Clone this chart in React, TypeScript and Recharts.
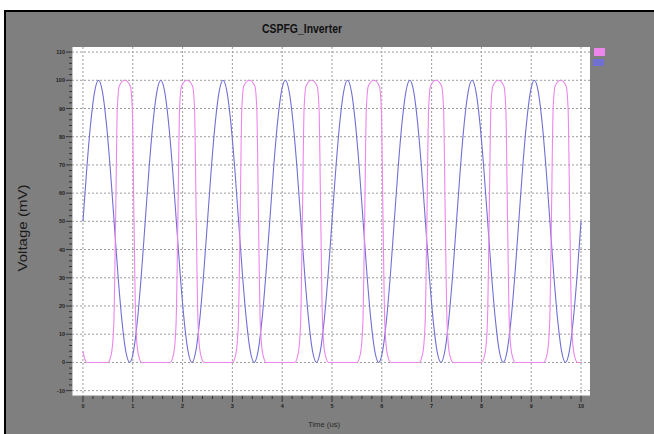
import { LineChart, Line, XAxis, YAxis, CartesianGrid } from "recharts";

// blue input: one row per 1.25 us period, sampled every 1/16 period
const BLUE_STEP = 0.078125;
const BLUE_V = [
  50, 69, 85, 96, 100, 96, 85, 69, 50, 31, 15, 4, 0, 4, 15, 31,
  50, 69, 85, 96, 100, 96, 85, 69, 50, 31, 15, 4, 0, 4, 15, 31,
  50, 69, 85, 96, 100, 96, 85, 69, 50, 31, 15, 4, 0, 4, 15, 31,
  50, 69, 85, 96, 100, 96, 85, 69, 50, 31, 15, 4, 0, 4, 15, 31,
  50, 69, 85, 96, 100, 96, 85, 69, 50, 31, 15, 4, 0, 4, 15, 31,
  50, 69, 85, 96, 100, 96, 85, 69, 50, 31, 15, 4, 0, 4, 15, 31,
  50, 69, 85, 96, 100, 96, 85, 69, 50, 31, 15, 4, 0, 4, 15, 31,
  50, 69, 85, 96, 100, 96, 85, 69, 50, 31, 15, 4, 0, 4, 15, 31,
  50,
];

// pink output: one row per pulse
const PINK_T = [
  0, 0.04, 0.08,
  0.5, 0.57, 0.62, 0.655, 0.69, 0.73, 0.84, 0.95, 0.99, 1.025, 1.06, 1.11, 1.18,
  1.75, 1.82, 1.87, 1.905, 1.94, 1.98, 2.09, 2.2, 2.24, 2.275, 2.31, 2.36, 2.43,
  3.0, 3.07, 3.12, 3.155, 3.19, 3.23, 3.34, 3.45, 3.49, 3.525, 3.56, 3.61, 3.68,
  4.25, 4.32, 4.37, 4.405, 4.44, 4.48, 4.59, 4.7, 4.74, 4.775, 4.81, 4.86, 4.93,
  5.5, 5.57, 5.62, 5.655, 5.69, 5.73, 5.84, 5.95, 5.99, 6.025, 6.06, 6.11, 6.18,
  6.75, 6.82, 6.87, 6.905, 6.94, 6.98, 7.09, 7.2, 7.24, 7.275, 7.31, 7.36, 7.43,
  8.0, 8.07, 8.12, 8.155, 8.19, 8.23, 8.34, 8.45, 8.49, 8.525, 8.56, 8.61, 8.68,
  9.25, 9.32, 9.37, 9.405, 9.44, 9.48, 9.59, 9.7, 9.74, 9.775, 9.81, 9.86, 9.93,
  10,
];
const PINK_V = [
  4, 1, 0,
  0, 3, 14, 50, 90, 98, 100, 98, 90, 50, 14, 3, 0,
  0, 3, 14, 50, 90, 98, 100, 98, 90, 50, 14, 3, 0,
  0, 3, 14, 50, 90, 98, 100, 98, 90, 50, 14, 3, 0,
  0, 3, 14, 50, 90, 98, 100, 98, 90, 50, 14, 3, 0,
  0, 3, 14, 50, 90, 98, 100, 98, 90, 50, 14, 3, 0,
  0, 3, 14, 50, 90, 98, 100, 98, 90, 50, 14, 3, 0,
  0, 3, 14, 50, 90, 98, 100, 98, 90, 50, 14, 3, 0,
  0, 3, 14, 50, 90, 98, 100, 98, 90, 50, 14, 3, 0,
  0,
];

const X_TICKS = [0, 1, 2, 3, 4, 5, 6, 7, 8, 9, 10];
const Y_TICKS = [-10, 0, 10, 20, 30, 40, 50, 60, 70, 80, 90, 100, 110];

const BLUE = "#7070d4";
const PINK = "#ec86ec";

const blueData = BLUE_V.map((v, i) => ({ t: i * BLUE_STEP, v }));
const pinkData = PINK_T.map((t, i) => ({ t, v: PINK_V[i] }));

// minor ticks: 5 per major division
const xMinor: number[] = [];
for (let i = 0; i <= 50; i++) xMinor.push(+(i * 0.2).toFixed(2));
const yMinor: number[] = [];
for (let v = -10; v <= 110; v += 2) yMinor.push(v);

const PLOT_L = 72;
const PLOT_B = 396;

const YTick = ({ y, payload }: any) => {
  const major = payload.value % 10 === 0;
  return (
    <g>
      <line x1={major ? 66 : 69} x2={PLOT_L} y1={y} y2={y} stroke="#333" strokeWidth={1} />
      {major && (
        <text x={65} y={y + 2} textAnchor="end" fontSize={5.5} fontWeight="bold" fill="#222">
          {payload.value}
        </text>
      )}
    </g>
  );
};

const XTick = ({ x, payload }: any) => {
  const major = Math.abs(payload.value - Math.round(payload.value)) < 1e-6;
  return (
    <g>
      <line x1={x} x2={x} y1={PLOT_B} y2={major ? 402 : 399} stroke="#333" strokeWidth={1} />
      {major && (
        <text x={x} y={408} textAnchor="middle" fontSize={5.5} fontWeight="bold" fill="#222">
          {payload.value}
        </text>
      )}
    </g>
  );
};

export default function App() {
  return (
    <div
      style={{
        position: "fixed",
        left: 0,
        top: 0,
        width: 654,
        height: 434,
        background: "#fff",
        fontFamily: "'Liberation Sans', Arial, sans-serif",
      }}
    >
      <div
        style={{
          position: "absolute",
          left: 4,
          top: 10,
          width: 650,
          height: 424,
          boxSizing: "border-box",
          background: "#7f7f7f",
          borderTop: "2px solid #000",
          borderLeft: "2px solid #000",
        }}
      />
      <div style={{ position: "absolute", left: 0, top: 0 }}>
        <LineChart
          width={654}
          height={434}
          margin={{ top: 47, right: 64, bottom: 8, left: 0 }}
        >
          <CartesianGrid
            fill="#fff"
            stroke="#9c9c9c"
            strokeDasharray="2 2"
            horizontalValues={Y_TICKS}
            verticalValues={X_TICKS}
          />
          <XAxis
            type="number"
            dataKey="t"
            domain={[-0.22, 10.18]}
            allowDataOverflow
            ticks={xMinor}
            interval={0}
            tick={<XTick />}
            tickLine={false}
            axisLine={{ stroke: "#8a8a8a" }}
            height={30}
          />
          <YAxis
            type="number"
            dataKey="v"
            domain={[-11.9, 111.8]}
            allowDataOverflow
            ticks={yMinor}
            interval={0}
            tick={<YTick />}
            tickLine={false}
            axisLine={{ stroke: "#8a8a8a" }}
            width={72}
          />
          <Line
            data={blueData}
            dataKey="v"
            name="in"
            type="monotone"
            stroke={BLUE}
            strokeWidth={1.1}
            dot={false}
            isAnimationActive={false}
          />
          <Line
            data={pinkData}
            dataKey="v"
            name="out"
            type="monotone"
            stroke={PINK}
            strokeWidth={1.1}
            dot={false}
            isAnimationActive={false}
          />
        </LineChart>
      </div>
      <svg
        width={654}
        height={434}
        style={{ position: "absolute", left: 0, top: 0, pointerEvents: "none" }}
      >
        <text
          x={302}
          y={33}
          textAnchor="middle"
          fontSize={12}
          fontWeight="bold"
          fill="#111"
          textLength={80}
          lengthAdjust="spacingAndGlyphs"
        >
          CSPFG_Inverter
        </text>
        <text
          x={27}
          y={228}
          textAnchor="middle"
          fontSize={13}
          fill="#1a1a1a"
          textLength={87}
          lengthAdjust="spacingAndGlyphs"
          transform="rotate(-90 27 228)"
        >
          Voltage (mV)
        </text>
        <text
          x={324}
          y={427}
          textAnchor="middle"
          fontSize={7.5}
          fill="#2a2a2a"
          textLength={32}
          lengthAdjust="spacingAndGlyphs"
        >
          Time (us)
        </text>
        {/* legend swatches */}
        <rect x={594} y={48} width={11} height={8} fill={PINK} />
        <rect x={593} y={59} width={11} height={7} fill={BLUE} />
      </svg>
    </div>
  );
}
